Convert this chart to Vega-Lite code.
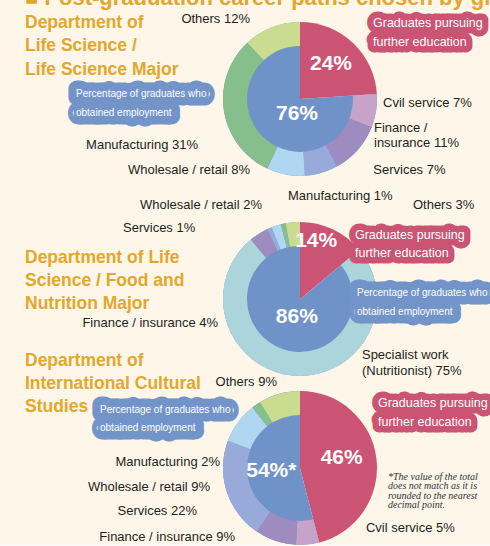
{
  "$schema": "https://vega.github.io/schema/vega-lite/v6.json",
  "background": "#fdf6e9",
  "padding": {"left": 25, "top": -13.1, "right": 0, "bottom": 0},
  "bounds": "flush",
  "spacing": 0,
  "title": {"text": "■ Post-graduation career paths chosen by graduates", "anchor": "start", "frame": "group", "orient": "top", "offset": 0, "dx": -85, "dy": 27.4, "baseline": "alphabetic", "align": "left", "font": "Liberation Sans, Arial, sans-serif", "fontSize": 22, "fontWeight": "bold", "color": "#e2a72c"},
  "config": {"view": {"stroke": null}, "text": {"font": "Liberation Sans, Arial, sans-serif"}},
  "datasets": {
    "inner": [
      {"dept": "Life Science / Life Science Major", "group": "Graduates pursuing\nfurther education", "value": 24, "label": "24%"},
      {"dept": "Life Science / Life Science Major", "group": "Percentage of graduates who\nobtained employment", "value": 76, "label": "76%"},
      {"dept": "Life Science / Food and Nutrition Major", "group": "Graduates pursuing\nfurther education", "value": 14, "label": "14%"},
      {"dept": "Life Science / Food and Nutrition Major", "group": "Percentage of graduates who\nobtained employment", "value": 86, "label": "86%"},
      {"dept": "International Cultural Studies", "group": "Graduates pursuing\nfurther education", "value": 46, "label": "46%"},
      {"dept": "International Cultural Studies", "group": "Percentage of graduates who\nobtained employment", "value": 54, "label": "54%*"}
    ],
    "outer": [
      {"dept": "Life Science / Life Science Major", "category": "Cvil service", "value": 7, "label": "Cvil service 7%"},
      {"dept": "Life Science / Life Science Major", "category": "Finance / insurance", "value": 11, "label": "Finance /\ninsurance 11%"},
      {"dept": "Life Science / Life Science Major", "category": "Services", "value": 7, "label": "Services 7%"},
      {"dept": "Life Science / Life Science Major", "category": "Wholesale / retail", "value": 8, "label": "Wholesale / retail 8%"},
      {"dept": "Life Science / Life Science Major", "category": "Manufacturing", "value": 31, "label": "Manufacturing 31%"},
      {"dept": "Life Science / Life Science Major", "category": "Others", "value": 12, "label": "Others 12%"},
      {"dept": "Life Science / Food and Nutrition Major", "category": "Specialist work (Nutritionist)", "value": 75, "label": "Specialist work\n(Nutritionist) 75%"},
      {"dept": "Life Science / Food and Nutrition Major", "category": "Finance / insurance", "value": 4, "label": "Finance / insurance 4%"},
      {"dept": "Life Science / Food and Nutrition Major", "category": "Services", "value": 1, "label": "Services 1%"},
      {"dept": "Life Science / Food and Nutrition Major", "category": "Wholesale / retail", "value": 2, "label": "Wholesale / retail 2%"},
      {"dept": "Life Science / Food and Nutrition Major", "category": "Manufacturing", "value": 1, "label": "Manufacturing 1%"},
      {"dept": "Life Science / Food and Nutrition Major", "category": "Others", "value": 3, "label": "Others 3%"},
      {"dept": "International Cultural Studies", "category": "Cvil service", "value": 5, "label": "Cvil service 5%"},
      {"dept": "International Cultural Studies", "category": "Finance / insurance", "value": 9, "label": "Finance / insurance 9%"},
      {"dept": "International Cultural Studies", "category": "Services", "value": 22, "label": "Services 22%"},
      {"dept": "International Cultural Studies", "category": "Wholesale / retail", "value": 9, "label": "Wholesale / retail 9%"},
      {"dept": "International Cultural Studies", "category": "Manufacturing", "value": 2, "label": "Manufacturing 2%"},
      {"dept": "International Cultural Studies", "category": "Others", "value": 9, "label": "Others 9%"}
    ]
  },
  "vconcat": [
    {
      "width": 380, "height": 198,
      "title": {"text": ["Department of", "Life Science /", "Life Science Major"], "anchor": "start", "frame": "group", "orient": "top", "offset": 0, "dx": -85, "dy": 78.2, "baseline": "top", "align": "left", "font": "Liberation Sans, Arial, sans-serif", "fontSize": 17.5, "fontWeight": "bold", "color": "#e2a72c", "lineHeight": 23.5},
      "resolve": {"scale": {"theta": "independent", "color": "independent", "stroke": "independent"}},
      "layer": [
        {
          "data": {"name": "inner"},
          "transform": [{"filter": {"field": "dept", "equal": "Life Science / Life Science Major"}}, {"window": [{"op": "row_number", "as": "rank"}]}],
          "mark": {"type": "arc", "outerRadius": 77},
          "encoding": {
            "theta": {"field": "value", "type": "quantitative", "stack": true},
            "order": {"field": "rank", "type": "quantitative"},
            "color": {"field": "group", "type": "nominal", "legend": null, "scale": {"domain": ["Graduates pursuing\nfurther education", "Percentage of graduates who\nobtained employment"], "range": ["#cb5373", "#6f93c9"]}}
          }
        },
        {
          "data": {"name": "outer"},
          "transform": [{"filter": {"field": "dept", "equal": "Life Science / Life Science Major"}}, {"window": [{"op": "row_number", "as": "rank"}]}],
          "mark": {"type": "arc", "innerRadius": 53, "outerRadius": 77},
          "encoding": {
            "theta": {"field": "value", "type": "quantitative", "stack": true, "scale": {"range": [1.50796, 6.28319]}},
            "order": {"field": "rank", "type": "quantitative"},
            "color": {"field": "category", "type": "nominal", "legend": null, "scale": {"domain": ["Cvil service", "Finance / insurance", "Services", "Wholesale / retail", "Manufacturing", "Others", "Specialist work (Nutritionist)"], "range": ["#c8a3c9", "#9e8bbf", "#98aad9", "#b0d7f2", "#86be8c", "#c9dc8f", "#acd5db"]}}
          }
        },
        {
          "data": {"name": "inner"},
          "transform": [{"filter": {"field": "dept", "equal": "Life Science / Life Science Major"}}, {"window": [{"op": "row_number", "as": "rank"}]}],
          "mark": {"type": "text", "radius": 38, "fontWeight": "bold", "fontSize": 21, "color": "#ffffff", "baseline": "middle", "align": "center", "dx": {"expr": "[5, 23][datum.rank - 1]"}, "dy": {"expr": "[-6.8, -12.2][datum.rank - 1]"}},
          "encoding": {
            "theta": {"field": "value", "type": "quantitative", "stack": true},
            "order": {"field": "rank", "type": "quantitative"},
            "detail": {"field": "group", "type": "nominal"},
            "text": {"field": "label", "type": "nominal"}
          }
        },
        {
          "data": {"name": "inner"},
          "transform": [{"filter": {"field": "dept", "equal": "Life Science / Life Science Major"}}, {"window": [{"op": "row_number", "as": "rank"}]}],
          "mark": {"type": "text", "radius": 77, "align": "left", "baseline": "middle", "lineBreak": "\n", "lineHeight": {"expr": "[19.5, 19][datum.rank - 1]"}, "fontSize": {"expr": "[12.5, 10][datum.rank - 1]"}, "strokeWidth": {"expr": "[13, 17][datum.rank - 1]"}, "strokeJoin": "round", "dx": {"expr": "[20.3, -171.3][datum.rank - 1]"}, "dy": {"expr": "[-19.9, -61.1][datum.rank - 1]"}},
          "encoding": {
            "theta": {"field": "value", "type": "quantitative", "stack": true},
            "order": {"field": "rank", "type": "quantitative"},
            "text": {"field": "group", "type": "nominal"},
            "color": {"field": "group", "type": "nominal", "legend": null, "scale": {"domain": ["Graduates pursuing\nfurther education", "Percentage of graduates who\nobtained employment"], "range": ["#cb5373", "#7394c9"]}},
            "stroke": {"field": "group", "type": "nominal", "legend": null, "scale": {"domain": ["Graduates pursuing\nfurther education", "Percentage of graduates who\nobtained employment"], "range": ["#cb5373", "#7394c9"]}}
          }
        },
        {
          "data": {"name": "inner"},
          "transform": [{"filter": {"field": "dept", "equal": "Life Science / Life Science Major"}}, {"window": [{"op": "row_number", "as": "rank"}]}],
          "mark": {"type": "text", "radius": 77, "align": "left", "baseline": "middle", "lineBreak": "\n", "lineHeight": {"expr": "[19.5, 19][datum.rank - 1]"}, "color": "#ffffff", "fontSize": {"expr": "[12.5, 10][datum.rank - 1]"}, "dx": {"expr": "[20.3, -171.3][datum.rank - 1]"}, "dy": {"expr": "[-19.9, -61.1][datum.rank - 1]"}},
          "encoding": {
            "theta": {"field": "value", "type": "quantitative", "stack": true},
            "order": {"field": "rank", "type": "quantitative"},
            "detail": {"field": "group", "type": "nominal"},
            "text": {"field": "group", "type": "nominal"}
          }
        },
        {
          "data": {"name": "outer"},
          "transform": [{"filter": {"field": "dept", "equal": "Life Science / Life Science Major"}}, {"window": [{"op": "row_number", "as": "rank"}]}],
          "mark": {"type": "text", "radius": 80, "fontSize": 13, "color": "#231f20", "baseline": "middle", "lineBreak": "\n", "lineHeight": 15, "align": {"expr": "['left', 'left', 'left', 'right', 'right', 'right'][datum.rank - 1]"}, "dx": {"expr": "[4, 14, 51, -35, -23, -20.6][datum.rank - 1]"}, "dy": {"expr": "[-8.5, -23.4, -6, -7.6, 33.5, -5.6][datum.rank - 1]"}},
          "encoding": {
            "theta": {"field": "value", "type": "quantitative", "stack": true, "scale": {"range": [1.50796, 6.28319]}},
            "order": {"field": "rank", "type": "quantitative"},
            "detail": {"field": "category", "type": "nominal"},
            "text": {"field": "label", "type": "nominal"}
          }
        }
      ]
    },
    {
      "width": 380, "height": 202,
      "title": {"text": ["Department of Life", "Science / Food and", "Nutrition Major"], "anchor": "start", "frame": "group", "orient": "top", "offset": 0, "dx": -85, "dy": 122.7, "baseline": "top", "align": "left", "font": "Liberation Sans, Arial, sans-serif", "fontSize": 17.5, "fontWeight": "bold", "color": "#e2a72c", "lineHeight": 23},
      "resolve": {"scale": {"theta": "independent", "color": "independent", "stroke": "independent"}},
      "layer": [
        {
          "data": {"name": "inner"},
          "transform": [{"filter": {"field": "dept", "equal": "Life Science / Food and Nutrition Major"}}, {"window": [{"op": "row_number", "as": "rank"}]}],
          "mark": {"type": "arc", "outerRadius": 77},
          "encoding": {
            "theta": {"field": "value", "type": "quantitative", "stack": true},
            "order": {"field": "rank", "type": "quantitative"},
            "color": {"field": "group", "type": "nominal", "legend": null, "scale": {"domain": ["Graduates pursuing\nfurther education", "Percentage of graduates who\nobtained employment"], "range": ["#cb5373", "#6f93c9"]}}
          }
        },
        {
          "data": {"name": "outer"},
          "transform": [{"filter": {"field": "dept", "equal": "Life Science / Food and Nutrition Major"}}, {"window": [{"op": "row_number", "as": "rank"}]}],
          "mark": {"type": "arc", "innerRadius": 53, "outerRadius": 77},
          "encoding": {
            "theta": {"field": "value", "type": "quantitative", "stack": true, "scale": {"range": [0.87965, 6.28319]}},
            "order": {"field": "rank", "type": "quantitative"},
            "color": {"field": "category", "type": "nominal", "legend": null, "scale": {"domain": ["Cvil service", "Finance / insurance", "Services", "Wholesale / retail", "Manufacturing", "Others", "Specialist work (Nutritionist)"], "range": ["#c8a3c9", "#9e8bbf", "#98aad9", "#b0d7f2", "#86be8c", "#c9dc8f", "#acd5db"]}}
          }
        },
        {
          "data": {"name": "inner"},
          "transform": [{"filter": {"field": "dept", "equal": "Life Science / Food and Nutrition Major"}}, {"window": [{"op": "row_number", "as": "rank"}]}],
          "mark": {"type": "text", "radius": 38, "fontWeight": "bold", "fontSize": 21, "color": "#ffffff", "baseline": "middle", "align": "center", "dx": {"expr": "[0, 13][datum.rank - 1]"}, "dy": {"expr": "[-24, -16][datum.rank - 1]"}},
          "encoding": {
            "theta": {"field": "value", "type": "quantitative", "stack": true},
            "order": {"field": "rank", "type": "quantitative"},
            "detail": {"field": "group", "type": "nominal"},
            "text": {"field": "label", "type": "nominal"}
          }
        },
        {
          "data": {"name": "inner"},
          "transform": [{"filter": {"field": "dept", "equal": "Life Science / Food and Nutrition Major"}}, {"window": [{"op": "row_number", "as": "rank"}]}],
          "mark": {"type": "text", "radius": 77, "align": "left", "baseline": "middle", "lineBreak": "\n", "lineHeight": {"expr": "[18.5, 19][datum.rank - 1]"}, "fontSize": {"expr": "[12.5, 10][datum.rank - 1]"}, "strokeWidth": {"expr": "[13, 17][datum.rank - 1]"}, "strokeJoin": "round", "dx": {"expr": "[22.2, 89.8][datum.rank - 1]"}, "dy": {"expr": "[5.7, -75.7][datum.rank - 1]"}},
          "encoding": {
            "theta": {"field": "value", "type": "quantitative", "stack": true},
            "order": {"field": "rank", "type": "quantitative"},
            "text": {"field": "group", "type": "nominal"},
            "color": {"field": "group", "type": "nominal", "legend": null, "scale": {"domain": ["Graduates pursuing\nfurther education", "Percentage of graduates who\nobtained employment"], "range": ["#cb5373", "#7394c9"]}},
            "stroke": {"field": "group", "type": "nominal", "legend": null, "scale": {"domain": ["Graduates pursuing\nfurther education", "Percentage of graduates who\nobtained employment"], "range": ["#cb5373", "#7394c9"]}}
          }
        },
        {
          "data": {"name": "inner"},
          "transform": [{"filter": {"field": "dept", "equal": "Life Science / Food and Nutrition Major"}}, {"window": [{"op": "row_number", "as": "rank"}]}],
          "mark": {"type": "text", "radius": 77, "align": "left", "baseline": "middle", "lineBreak": "\n", "lineHeight": {"expr": "[18.5, 19][datum.rank - 1]"}, "color": "#ffffff", "fontSize": {"expr": "[12.5, 10][datum.rank - 1]"}, "dx": {"expr": "[22.2, 89.8][datum.rank - 1]"}, "dy": {"expr": "[5.7, -75.7][datum.rank - 1]"}},
          "encoding": {
            "theta": {"field": "value", "type": "quantitative", "stack": true},
            "order": {"field": "rank", "type": "quantitative"},
            "detail": {"field": "group", "type": "nominal"},
            "text": {"field": "group", "type": "nominal"}
          }
        },
        {
          "data": {"name": "outer"},
          "transform": [{"filter": {"field": "dept", "equal": "Life Science / Food and Nutrition Major"}}, {"window": [{"op": "row_number", "as": "rank"}]}],
          "mark": {"type": "text", "radius": 80, "fontSize": 13, "color": "#231f20", "baseline": "middle", "lineBreak": "\n", "lineHeight": 16, "align": {"expr": "['left', 'right', 'right', 'right', 'left', 'left'][datum.rank - 1]"}, "dx": {"expr": "[69.5, -39, -73, -13.3, 5.4, 120.5][datum.rank - 1]"}, "dy": {"expr": "[-23.6, 92, 2.4, -18, -25, -14.4][datum.rank - 1]"}},
          "encoding": {
            "theta": {"field": "value", "type": "quantitative", "stack": true, "scale": {"range": [0.87965, 6.28319]}},
            "order": {"field": "rank", "type": "quantitative"},
            "detail": {"field": "category", "type": "nominal"},
            "text": {"field": "label", "type": "nominal"}
          }
        }
      ]
    },
    {
      "width": 380, "height": 136,
      "title": {"text": ["Department of", "International Cultural", "Studies"], "anchor": "start", "frame": "group", "orient": "top", "offset": 0, "dx": -85, "dy": 39.7, "baseline": "top", "align": "left", "font": "Liberation Sans, Arial, sans-serif", "fontSize": 17.5, "fontWeight": "bold", "color": "#e2a72c", "lineHeight": 23},
      "resolve": {"scale": {"theta": "independent", "color": "independent", "stroke": "independent"}},
      "layer": [
        {
          "data": {"name": "inner"},
          "transform": [{"filter": {"field": "dept", "equal": "International Cultural Studies"}}, {"window": [{"op": "row_number", "as": "rank"}]}],
          "mark": {"type": "arc", "outerRadius": 77},
          "encoding": {
            "theta": {"field": "value", "type": "quantitative", "stack": true},
            "order": {"field": "rank", "type": "quantitative"},
            "color": {"field": "group", "type": "nominal", "legend": null, "scale": {"domain": ["Graduates pursuing\nfurther education", "Percentage of graduates who\nobtained employment"], "range": ["#cb5373", "#6f93c9"]}}
          }
        },
        {
          "data": {"name": "outer"},
          "transform": [{"filter": {"field": "dept", "equal": "International Cultural Studies"}}, {"window": [{"op": "row_number", "as": "rank"}]}],
          "mark": {"type": "arc", "innerRadius": 53, "outerRadius": 77},
          "encoding": {
            "theta": {"field": "value", "type": "quantitative", "stack": true, "scale": {"range": [2.89027, 6.28319]}},
            "order": {"field": "rank", "type": "quantitative"},
            "color": {"field": "category", "type": "nominal", "legend": null, "scale": {"domain": ["Cvil service", "Finance / insurance", "Services", "Wholesale / retail", "Manufacturing", "Others", "Specialist work (Nutritionist)"], "range": ["#c8a3c9", "#9e8bbf", "#98aad9", "#b0d7f2", "#86be8c", "#c9dc8f", "#acd5db"]}}
          }
        },
        {
          "data": {"name": "inner"},
          "transform": [{"filter": {"field": "dept", "equal": "International Cultural Studies"}}, {"window": [{"op": "row_number", "as": "rank"}]}],
          "mark": {"type": "text", "radius": 38, "fontWeight": "bold", "fontSize": 21, "color": "#ffffff", "baseline": "middle", "align": "center", "dx": {"expr": "[4, 9][datum.rank - 1]"}, "dy": {"expr": "[-5, -2][datum.rank - 1]"}},
          "encoding": {
            "theta": {"field": "value", "type": "quantitative", "stack": true},
            "order": {"field": "rank", "type": "quantitative"},
            "detail": {"field": "group", "type": "nominal"},
            "text": {"field": "label", "type": "nominal"}
          }
        },
        {
          "data": {"name": "inner"},
          "transform": [{"filter": {"field": "dept", "equal": "International Cultural Studies"}}, {"window": [{"op": "row_number", "as": "rank"}]}],
          "mark": {"type": "text", "radius": 77, "align": "left", "baseline": "middle", "lineBreak": "\n", "lineHeight": {"expr": "[19, 18][datum.rank - 1]"}, "fontSize": {"expr": "[12.5, 10][datum.rank - 1]"}, "strokeWidth": {"expr": "[13, 17][datum.rank - 1]"}, "strokeJoin": "round", "dx": {"expr": "[1.6, -123.6][datum.rank - 1]"}, "dy": {"expr": "[-55.4, -67.6][datum.rank - 1]"}},
          "encoding": {
            "theta": {"field": "value", "type": "quantitative", "stack": true},
            "order": {"field": "rank", "type": "quantitative"},
            "text": {"field": "group", "type": "nominal"},
            "color": {"field": "group", "type": "nominal", "legend": null, "scale": {"domain": ["Graduates pursuing\nfurther education", "Percentage of graduates who\nobtained employment"], "range": ["#cb5373", "#7394c9"]}},
            "stroke": {"field": "group", "type": "nominal", "legend": null, "scale": {"domain": ["Graduates pursuing\nfurther education", "Percentage of graduates who\nobtained employment"], "range": ["#cb5373", "#7394c9"]}}
          }
        },
        {
          "data": {"name": "inner"},
          "transform": [{"filter": {"field": "dept", "equal": "International Cultural Studies"}}, {"window": [{"op": "row_number", "as": "rank"}]}],
          "mark": {"type": "text", "radius": 77, "align": "left", "baseline": "middle", "lineBreak": "\n", "lineHeight": {"expr": "[19, 18][datum.rank - 1]"}, "color": "#ffffff", "fontSize": {"expr": "[12.5, 10][datum.rank - 1]"}, "dx": {"expr": "[1.6, -123.6][datum.rank - 1]"}, "dy": {"expr": "[-55.4, -67.6][datum.rank - 1]"}},
          "encoding": {
            "theta": {"field": "value", "type": "quantitative", "stack": true},
            "order": {"field": "rank", "type": "quantitative"},
            "detail": {"field": "group", "type": "nominal"},
            "text": {"field": "group", "type": "nominal"}
          }
        },
        {
          "data": {"name": "inner"},
          "transform": [{"filter": {"field": "dept", "equal": "International Cultural Studies"}}, {"window": [{"op": "row_number", "as": "rank"}]}],
          "mark": {"type": "text", "radius": 77, "align": "left", "baseline": "middle", "font": "Liberation Serif, serif", "fontStyle": "italic", "fontSize": 10, "lineHeight": 9.5, "color": "#333333", "dx": 11.6, "dy": 18.3},
          "encoding": {
            "theta": {"field": "value", "type": "quantitative", "stack": true},
            "order": {"field": "rank", "type": "quantitative"},
            "detail": {"field": "group", "type": "nominal"},
            "text": {"condition": {"test": "datum.rank == 1", "value": ["*The value of the total", "does not match as it is", "rounded to the nearest", "decimal point."]}, "value": ""}
          }
        },
        {
          "data": {"name": "outer"},
          "transform": [{"filter": {"field": "dept", "equal": "International Cultural Studies"}}, {"window": [{"op": "row_number", "as": "rank"}]}],
          "mark": {"type": "text", "radius": 80, "fontSize": 13, "color": "#231f20", "baseline": "middle", "lineBreak": "\n", "lineHeight": 16, "align": {"expr": "['left', 'right', 'right', 'right', 'right', 'right'][datum.rank - 1]"}, "dx": {"expr": "[58, -39.5, -26.8, -25.4, -34.4, -1.5][datum.rank - 1]"}, "dy": {"expr": "[-19.6, -6.8, 18.8, 66, 59.8, -9][datum.rank - 1]"}},
          "encoding": {
            "theta": {"field": "value", "type": "quantitative", "stack": true, "scale": {"range": [2.89027, 6.28319]}},
            "order": {"field": "rank", "type": "quantitative"},
            "detail": {"field": "category", "type": "nominal"},
            "text": {"field": "label", "type": "nominal"}
          }
        }
      ]
    }
  ]
}
